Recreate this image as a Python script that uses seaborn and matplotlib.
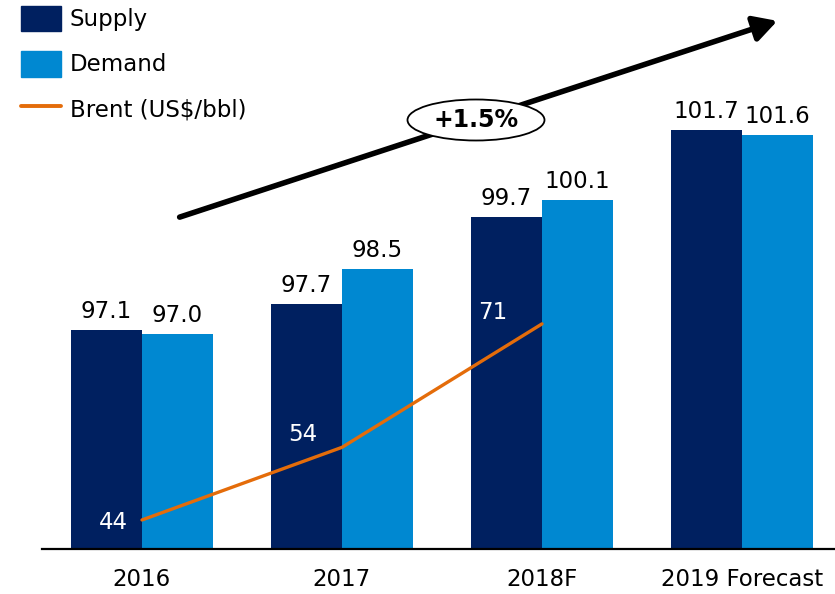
import matplotlib
matplotlib.use("Agg")
import matplotlib.pyplot as plt
from matplotlib.patches import Patch, Ellipse, FancyArrowPatch
from matplotlib.lines import Line2D
import pandas as pd
import seaborn as sns

# data
years = ["2016", "2017", "2018F", "2019 Forecast"]
supply = [97.1, 97.7, 99.7, 101.7]
demand = [97.0, 98.5, 100.1, 101.6]
brent = [44, 54, 71]
growth_label = "+1.5%"

navy = "#002060"
blue = "#0088D1"
orange = "#E46C0A"

df = pd.DataFrame({
    "year": years * 2,
    "value": supply + demand,
    "series": ["Supply"] * len(years) + ["Demand"] * len(years),
})

sns.set_style("white")
plt.rcParams["font.family"] = ["DejaVu Sans"]
plt.rcParams["font.size"] = 16
plt.rcParams["text.color"] = "black"
plt.rcParams["xtick.color"] = "black"

fig = plt.figure(figsize=(8.35, 5.94), dpi=100)
ax = fig.add_axes([42 / 835, 45 / 594, 1 - 42 / 835, 1 - 45 / 594])

sns.barplot(data=df, x="year", y="value", hue="series", palette=[navy, blue],
            width=0.71, saturation=1, linewidth=0, ax=ax, legend=False)
ax.set_ylim(92.05, 104.7)
ax.set_xlim(-0.5, 3.465)
for c in ax.containers:
    ax.bar_label(c, fmt="%.1f", padding=5, fontsize=16.5, color="black")

ax.set_xlabel("")
ax.set_ylabel("")
ax.set_yticks([])
ax.tick_params(axis="x", length=0, pad=14, labelsize=16.5, labelcolor="black")
for s in ["top", "left", "right"]:
    ax.spines[s].set_visible(False)
ax.spines["bottom"].set_color("black")
ax.spines["bottom"].set_linewidth(1.6)

# brent line on second axis
ax2 = ax.twinx()
sns.lineplot(x=list(range(len(brent))), y=brent, color=orange, linewidth=2.4, ax=ax2)
ax2.set_ylim(40, 115.6)
ax2.axis("off")
offsets = [(-29, -3), (-39, 13), (-49, 11)]
for i, v in enumerate(brent):
    ax2.annotate(str(v), (i, v), xytext=offsets[i], textcoords="offset pixels",
                 ha="center", va="center", color="white", fontsize=16.5)

# growth arrow
fig.add_artist(FancyArrowPatch(
    (177 / 835, 376 / 594), (780 / 835, 574 / 594), transform=fig.transFigure,
    arrowstyle="-|>,head_length=1.0,head_width=0.55", mutation_scale=14,
    color="black", linewidth=4.0))
fig.add_artist(Ellipse((476 / 835, 474 / 594), 137 / 835, 41 / 594,
                       transform=fig.transFigure, facecolor="white",
                       edgecolor="black", linewidth=1.3, zorder=5))
fig.text(476 / 835, 474 / 594, growth_label, ha="center", va="center",
         fontsize=17, fontweight="bold", zorder=6)

# legend
handles = [Patch(color=navy, label="Supply"),
           Patch(color=blue, label="Demand"),
           Line2D([], [], color=orange, linewidth=2.8, label="Brent (US$/bbl)")]
fig.legend(handles=handles, loc="upper left", bbox_to_anchor=(0.0, 1.025),
           frameon=False, fontsize=16.5, handlelength=1.75, handleheight=1.35,
           labelspacing=0.85, handletextpad=0.4, borderaxespad=0.5)

fig.savefig("out.png", dpi=100)
